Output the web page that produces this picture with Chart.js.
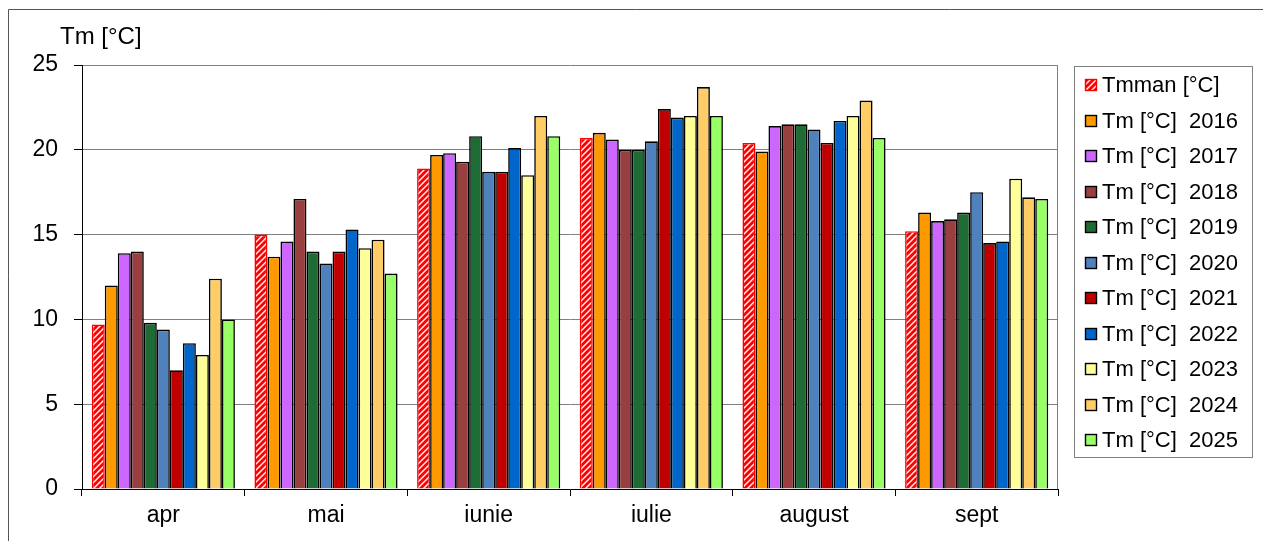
<html>
<head>
<script src="https://cdn.jsdelivr.net/npm/chart.js@4.4.1/dist/chart.umd.min.js"></script>
<style>
  body { margin: 0; background: #fff; }
  #wrap { width: 1263px; height: 541px; }
</style>
</head>
<body>
<div id="wrap"><canvas id="myChart" width="1263" height="541"></canvas></div>
<script>
// months and series
const months = ['apr', 'mai', 'iunie', 'iulie', 'august', 'sept'];
const seriesLabels = ['Tmman [°C]', 'Tm [°C]  2016', 'Tm [°C]  2017', 'Tm [°C]  2018', 'Tm [°C]  2019',
  'Tm [°C]  2020', 'Tm [°C]  2021', 'Tm [°C]  2022', 'Tm [°C]  2023', 'Tm [°C]  2024', 'Tm [°C]  2025'];
const tmman = [9.7, 15.0, 18.9, 20.7, 20.4, 15.2];
const tm2016 = [12.0, 13.7, 19.7, 21.0, 19.9, 16.3];
const tm2017 = [13.9, 14.6, 19.8, 20.6, 21.4, 15.8];
const tm2018 = [14.0, 17.1, 19.3, 20.0, 21.5, 15.9];
const tm2019 = [9.8, 14.0, 20.8, 20.0, 21.5, 16.3];
const tm2020 = [9.4, 13.3, 18.7, 20.5, 21.2, 17.5];
const tm2021 = [7.0, 14.0, 18.7, 22.4, 20.4, 14.5];
const tm2022 = [8.6, 15.3, 20.1, 21.9, 21.7, 14.6];
const tm2023 = [7.9, 14.2, 18.5, 22.0, 22.0, 18.3];
const tm2024 = [12.4, 14.7, 22.0, 23.7, 22.9, 17.2];
const tm2025 = [10.0, 12.7, 20.8, 22.0, 20.7, 17.1];
const yTicks = [0, 5, 10, 15, 20, 25];

const allSeries = [tmman, tm2016, tm2017, tm2018, tm2019, tm2020, tm2021, tm2022, tm2023, tm2024, tm2025];
const colors = ['#FF0000', '#FF9900', '#CC66FF', '#993F3F', '#1E6B35', '#4F81BD',
  '#C00000', '#0066CC', '#FFFF99', '#FFCC66', '#99FF66'];

// red / white hatched fill for Tmman
function makeHatch() {
  const c = document.createElement('canvas');
  c.width = 6; c.height = 6;
  const g = c.getContext('2d');
  g.fillStyle = '#FF0000';
  g.fillRect(0, 0, 6, 6);
  g.strokeStyle = '#FFFFFF';
  g.lineWidth = 1.4;
  g.beginPath();
  g.moveTo(-1, 7); g.lineTo(7, -1);
  g.moveTo(-4, 4); g.lineTo(4, -4);
  g.moveTo(2, 10); g.lineTo(10, 2);
  g.stroke();
  return g.createPattern(c, 'repeat');
}
const hatch = makeHatch();

const FONT = 'Arial, "Liberation Sans", sans-serif';

const datasets = allSeries.map((vals, i) => ({
  label: seriesLabels[i],
  data: vals,
  backgroundColor: i === 0 ? hatch : colors[i],
  borderColor: i === 0 ? '#FF0000' : '#000000',
  borderWidth: 1.6,
  borderSkipped: 'bottom',
  categoryPercentage: 0.88,
  barPercentage: 1.0
}));

const framePlugin = {
  id: 'frame',
  beforeDraw(chart) {
    const ctx = chart.ctx;
    ctx.save();
    ctx.fillStyle = '#fff';
    ctx.fillRect(0, 0, chart.width, chart.height);
    ctx.restore();
  },
  afterDraw(chart) {
    const ctx = chart.ctx;
    const a = chart.chartArea;
    ctx.save();
    // outer frame (only top and left visible)
    ctx.strokeStyle = '#555';
    ctx.lineWidth = 1;
    ctx.beginPath();
    ctx.moveTo(8.5, chart.height);
    ctx.lineTo(8.5, 9.5);
    ctx.lineTo(chart.width, 9.5);
    ctx.stroke();
    // right edge of plot
    ctx.strokeStyle = '#808080';
    ctx.beginPath();
    ctx.moveTo(Math.round(a.right) - 0.5, a.top);
    ctx.lineTo(Math.round(a.right) - 0.5, a.bottom);
    ctx.stroke();
    // axis title
    ctx.fillStyle = '#000';
    ctx.font = '24px ' + FONT;
    ctx.textBaseline = 'alphabetic';
    ctx.fillText('Tm [°C]', 60, 44);
    // legend
    ctx.strokeStyle = '#808080';
    ctx.strokeRect(1074.5, 66.5, 178, 391);
    ctx.font = '22px ' + FONT;
    ctx.textBaseline = 'middle';
    chart.data.datasets.forEach((ds, i) => {
      const cy = 85 + i * 35.5;
      ctx.fillStyle = ds.backgroundColor;
      ctx.fillRect(1085.5, Math.round(cy) - 5.5, 11, 11);
      ctx.strokeStyle = ds.borderColor;
      ctx.lineWidth = 1.4;
      ctx.strokeRect(1085.5, Math.round(cy) - 5.5, 11, 11);
      ctx.fillStyle = '#000';
      ctx.fillText(ds.label, 1102, cy + 1);
    });
    ctx.restore();
  }
};

new Chart(document.getElementById('myChart'), {
  type: 'bar',
  data: { labels: months, datasets: datasets },
  options: {
    responsive: false,
    animation: false,
    layout: { padding: { left: 0, top: 65, right: 205, bottom: 0 } },
    plugins: { legend: { display: false }, tooltip: { enabled: false } },
    scales: {
      y: {
        min: 0,
        max: 25,
        afterBuildTicks(scale) { scale.ticks = yTicks.map(v => ({ value: v })); },
        afterFit(scale) { scale.width = 82; },
        ticks: { color: '#000', font: { size: 23, family: FONT }, padding: 16 },
        grid: { color: '#808080', tickColor: '#000', tickLength: 8, lineWidth: 1 },
        border: { color: '#000', width: 1 }
      },
      x: {
        afterFit(scale) { scale.height = 52; },
        ticks: { color: '#000', font: { size: 23, family: FONT }, padding: 6 },
        grid: { drawOnChartArea: false, tickColor: '#000', tickLength: 7, offset: true },
        border: { color: '#000', width: 1 }
      }
    }
  },
  plugins: [framePlugin]
});
</script>
</body>
</html>
